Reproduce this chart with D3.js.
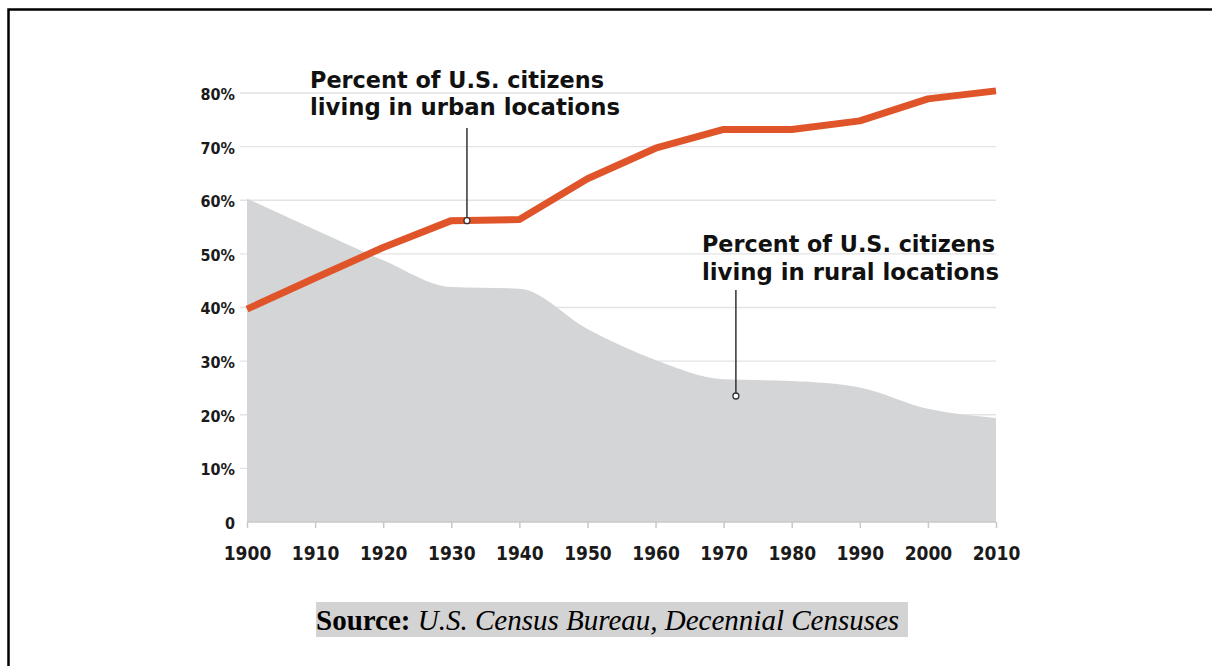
<!DOCTYPE html>
<html><head><meta charset="utf-8">
<script src="https://cdn.jsdelivr.net/npm/d3@7"></script>
<style>body{margin:0;background:#fff}svg{display:block}</style>
</head><body>
<script>
const years = [1900,1910,1920,1930,1940,1950,1960,1970,1980,1990,2000,2010];
const urban = [39.7,45.5,51.2,56.2,56.4,64.0,69.7,73.2,73.2,74.8,78.9,80.4];
const rural = [60.3,54.5,48.8,43.8,43.5,36.0,30.2,26.6,26.3,25.1,21.1,19.4];
const yTicks = [0,10,20,30,40,50,60,70,80];
const urbanLabel = ["Percent of U.S. citizens","living in urban locations"];
const ruralLabel = ["Percent of U.S. citizens","living in rural locations"];
const urbanPointer = [1932.3, 56.2];
const ruralPointer = [1971.8, 23.5];

const W=1212,H=666;
const svg=d3.select("body").append("svg").attr("width",W).attr("height",H);
svg.append("rect").attr("width",W).attr("height",H).attr("fill","#fff");
// frame
svg.append("path").attr("d","M8.5,670 V9.5 H1215").attr("fill","none").attr("stroke","#000").attr("stroke-width",2.5);

const x=d3.scaleLinear().domain([1900,2010]).range([247,996]);
const y=d3.scaleLinear().domain([0,80]).range([522,93]);
const cond="'Liberation Sans Narrow','DejaVu Sans Condensed',Arial,sans-serif";

// gridlines
svg.append("g").selectAll("line").data(yTicks.filter(d=>d>0)).join("line")
  .attr("x1",240).attr("x2",996).attr("y1",d=>y(d)).attr("y2",d=>y(d))
  .attr("stroke","#e3e3e3").attr("stroke-width",1.3);

// area
const area=d3.area().x((d,i)=>x(years[i])).y0(y(0)).y1(d=>y(d)).curve(d3.curveMonotoneX);
svg.append("path").datum(rural).attr("d",area).attr("fill","#d4d5d7");

// x axis
const xAxis=svg.append("g").attr("transform",`translate(0,${y(0)})`)
  .call(d3.axisBottom(x).tickValues(years).tickFormat(d3.format("d")).tickSize(6).tickPadding(19));
xAxis.select(".domain").attr("stroke","#c8c8c8").attr("stroke-width",1.5).attr("d",`M${x(1900)},0H${x(2010)}`);
xAxis.selectAll(".tick line").attr("stroke","#c8c8c8").attr("stroke-width",1.5);
xAxis.selectAll("text").attr("font-family",cond).attr("font-weight","bold").attr("font-size",19).attr("fill","#1a1a1a");

// y axis labels
const yAxis=svg.append("g").attr("transform",`translate(240,0)`)
  .call(d3.axisLeft(y).tickValues(yTicks).tickFormat(d=>d===0?"0":d+"%").tickSize(0).tickPadding(5));
yAxis.select(".domain").remove();
yAxis.selectAll("text").attr("font-family",cond).attr("font-weight","bold").attr("font-size",16).attr("fill","#1a1a1a").attr("dy","0.4em");

// urban line
const line=d3.line().x((d,i)=>x(years[i])).y(d=>y(d));
svg.append("path").datum(urban).attr("d",line).attr("fill","none")
  .attr("stroke","#e0542a").attr("stroke-width",7).attr("stroke-linejoin","round");

// annotations
function annot(lines, tx, baselines, widths, ptr, topY){
  const g=svg.append("g");
  g.append("line").attr("x1",x(ptr[0])).attr("x2",x(ptr[0])).attr("y1",topY).attr("y2",y(ptr[1]))
    .attr("stroke","#333").attr("stroke-width",1.5);
  g.append("circle").attr("cx",x(ptr[0])).attr("cy",y(ptr[1])).attr("r",3).attr("fill","#fff").attr("stroke","#333").attr("stroke-width",1.3);
  lines.forEach((t,i)=>{
    g.append("text").attr("x",tx).attr("y",baselines[i]).text(t)
      .attr("font-family",cond).attr("font-weight","bold").attr("font-size",23)
      .attr("fill","#111").attr("textLength",widths[i]).attr("lengthAdjust","spacingAndGlyphs");
  });
}
annot(urbanLabel,310,[88,115],[294,310],urbanPointer,128);
annot(ruralLabel,702,[252,280],[293,297],ruralPointer,290);

// source
svg.append("rect").attr("x",316).attr("y",602).attr("width",592).attr("height",35).attr("fill","#d3d3d3");
const src=svg.append("text").attr("x",316).attr("y",630).attr("font-family","'Liberation Serif','Times New Roman',serif").attr("font-size",29).attr("fill","#000");
src.append("tspan").attr("font-weight","bold").text("Source: ");
src.append("tspan").attr("font-style","italic").text("U.S. Census Bureau, Decennial Censuses");
</script>
</body></html>
